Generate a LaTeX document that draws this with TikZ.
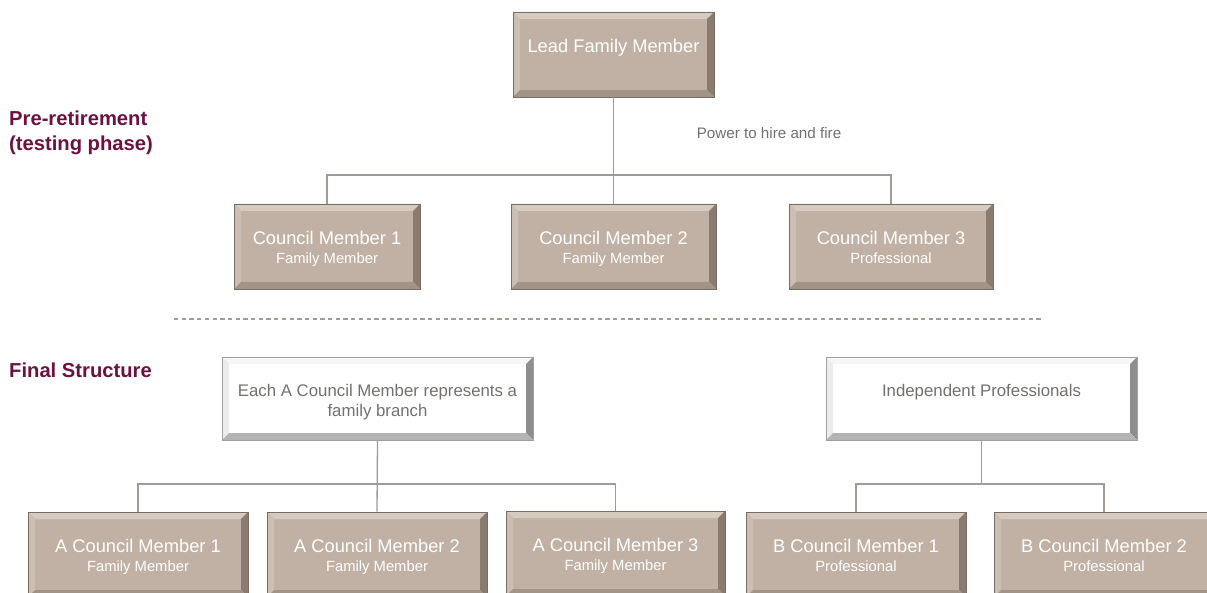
\documentclass[tikz,border=0pt]{standalone}
\usepackage{fontspec}
\setmainfont{Liberation Sans}
\definecolor{taupe}{HTML}{C0B1A4}
\definecolor{taupetop}{HTML}{D6CBC1}
\definecolor{taupeleft}{HTML}{CBBEB2}
\definecolor{tauperight}{HTML}{8A7B70}
\definecolor{taupebottom}{HTML}{A29387}
\definecolor{taupeedge}{HTML}{7A6C62}
\definecolor{wtop}{HTML}{F6F6F6}
\definecolor{wleft}{HTML}{ECECEC}
\definecolor{wright}{HTML}{8E8E8E}
\definecolor{wbottom}{HTML}{B4B4B4}
\definecolor{wedge}{HTML}{A0A0A0}
\definecolor{maroon}{RGB}{110,16,64}
\definecolor{conncol}{HTML}{A39A93}
\definecolor{greytext}{HTML}{75706B}
\newcommand\bevelfaces[4]{%
  \coordinate (bvNW) at (path picture bounding box.north west);
  \coordinate (bvNE) at (path picture bounding box.north east);
  \coordinate (bvSW) at (path picture bounding box.south west);
  \coordinate (bvSE) at (path picture bounding box.south east);
  \coordinate (bvnw) at ([shift={(7pt,-7pt)}]bvNW);
  \coordinate (bvne) at ([shift={(-7pt,-7pt)}]bvNE);
  \coordinate (bvsw) at ([shift={(7pt,7pt)}]bvSW);
  \coordinate (bvse) at ([shift={(-7pt,7pt)}]bvSE);
  \fill[#1] (bvNW) -- (bvNE) -- (bvne) -- (bvnw) -- cycle;
  \fill[#2] (bvNW) -- (bvnw) -- (bvsw) -- (bvSW) -- cycle;
  \fill[#3] (bvNE) -- (bvSE) -- (bvse) -- (bvne) -- cycle;
  \fill[#4] (bvSW) -- (bvsw) -- (bvse) -- (bvSE) -- cycle;
}
\newcommand\tfont{\fontsize{18.3}{20}\selectfont}
\newcommand\sfont{\fontsize{14.8}{20}\selectfont}
\newcommand\wfont{\fontsize{16.8}{19.5}\selectfont}
\newcommand\twoline[2]{{\tfont\vphantom{Cly}#1}\\[3.5pt]{\sfont\vphantom{Fy}#2}}
\tikzset{
  taupebox/.style={draw=taupeedge, line width=0.8pt, fill=taupe,
    minimum width=#1, minimum height=85pt, inner sep=0pt,
    path picture={\bevelfaces{taupetop}{taupeleft}{tauperight}{taupebottom}}},
  whitebox/.style={draw=wedge, line width=0.8pt, fill=white,
    minimum width=311pt, minimum height=83pt, inner sep=0pt,
    path picture={\bevelfaces{wtop}{wleft}{wright}{wbottom}}},
  boxtext/.style={text=white, align=center, inner sep=0pt},
  wtext/.style={text=greytext, align=center, inner sep=0pt, font=\wfont},
  conn/.style={draw=conncol, line width=1.3pt},
  heading/.style={text=maroon, font=\fontsize{20.2}{25}\selectfont\bfseries, align=left, anchor=west, inner sep=0pt},
}
\begin{document}
\begin{tikzpicture}[x=1pt,y=-1pt]
\useasboundingbox (0,0) rectangle (1207,593);
% headings
\node[heading] (h1) at (9,133) {Pre-retirement\\(testing phase)};
\node[heading] (h2) at (9,370) {Final Structure};
% top tree
\node[taupebox=201pt, label={[boxtext, yshift=6.5pt, name=leadt]center:{\tfont Lead Family Member}}] (lead) at (613.5,54.5) {};
\node[taupebox=186pt, label={[boxtext, yshift=-2pt, name=cm1t]center:{\twoline{Council Member 1}{Family Member}}}] (cm1) at (327,246.5) {};
\node[taupebox=205pt, label={[boxtext, yshift=-2pt, name=cm2t]center:{\twoline{Council Member 2}{Family Member}}}] (cm2) at (613.5,246.5) {};
\node[taupebox=204pt, label={[boxtext, yshift=-2pt, name=cm3t]center:{\twoline{Council Member 3}{Professional}}}] (cm3) at (891,246.5) {};
\node[text=greytext, font=\fontsize{15.2}{18}\selectfont, inner sep=0pt] (power) at (769,133) {Power to hire and fire};
\coordinate (bus1) at (614,175);
\draw[conn] (lead.south) -- (cm2.north);
\draw[conn] (cm1.north) -- (cm1.north |- bus1) -- (cm3.north |- bus1) -- (cm3.north);
% divider
\coordinate (d1) at (174,319);
\coordinate (d2) at (1042,319);
\draw[draw=conncol, line width=1.2pt, dash pattern=on 4.3pt off 3.4pt] (d1) -- (d2);
% bottom tree
\node[whitebox, label={[wtext, yshift=-3.5pt, name=eacht]center:{Each A Council Member represents a\\family branch}}] (each) at (377.5,398.5) {};
\node[whitebox, label={[wtext, yshift=6pt, name=indept]center:{Independent Professionals}}] (indep) at (981.5,398.5) {};
\node[taupebox=220pt, label={[boxtext, yshift=-2pt, name=a1t]center:{\twoline{A Council Member 1}{Family Member}}}] (acm1) at (138,554.5) {};
\node[taupebox=220pt, label={[boxtext, yshift=-2pt, name=a2t]center:{\twoline{A Council Member 2}{Family Member}}}] (acm2) at (377,554.5) {};
\node[taupebox=219pt, label={[boxtext, yshift=-2pt, name=a3t]center:{\twoline{A Council Member 3}{Family Member}}}] (acm3) at (615.5,553.5) {};
\node[taupebox=220pt, label={[boxtext, yshift=-2pt, name=b1t]center:{\twoline{B Council Member 1}{Professional}}}] (bcm1) at (856,554.5) {};
\node[taupebox=220pt, label={[boxtext, yshift=-2pt, name=b2t]center:{\twoline{B Council Member 2}{Professional}}}] (bcm2) at (1104,554.5) {};
\coordinate (bus2) at (0,484);
\draw[conn] (each.south) -- (acm2.north);
\draw[conn] (acm1.north) -- (acm1.north |- bus2) -- (acm3.north |- bus2) -- (acm3.north);
\draw[conn] (indep.south) -- (indep.south |- bus2);
\draw[conn] (bcm1.north) -- (bcm1.north |- bus2) -- (bcm2.north |- bus2) -- (bcm2.north);
\end{tikzpicture}
\end{document}
